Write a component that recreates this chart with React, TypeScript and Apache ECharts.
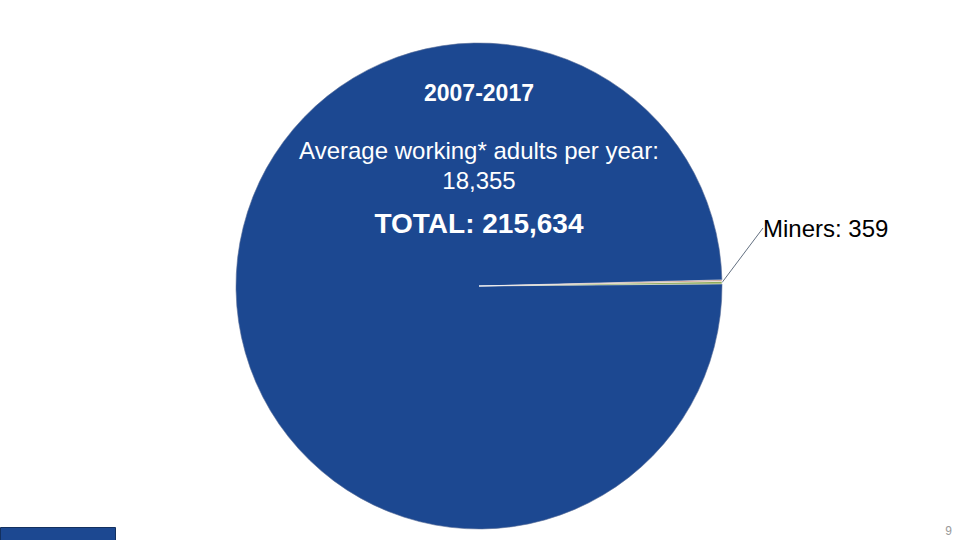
import React, { useEffect, useRef } from "react";
import * as echarts from "echarts";

const categories = ["Other working adults", "Miners", "Other"];
const values = [215075, 359, 200];
const colors = ["#1c4891", "#8faa5c", "#c0826c"];
const labelled = ["Miners"];

const titleText = "2007-2017";
const avgLine1 = "Average working* adults per year:";
const avgLine2 = "18,355";
const totalText = "TOTAL: 215,634";
const pageNumber = "9";

const FONT = "'Liberation Sans', Arial, sans-serif";

export default function App() {
  const ref = useRef<HTMLDivElement>(null);
  useEffect(() => {
    if (!ref.current) return;
    const chart = echarts.init(ref.current, undefined, { renderer: "svg" });
    const total = values.reduce((a, b) => a + b, 0);
    const smallSum = values.slice(1).reduce((a, b) => a + b, 0);
    const startAngle = (smallSum / total) * 360 + 0.5;
    const txt = (text: string, y: number, font: string) => ({
      type: "text",
      z: 100,
      style: {
        text,
        x: 479,
        y,
        align: "center",
        verticalAlign: "middle",
        fill: "#ffffff",
        font,
      },
    });
    chart.setOption({
      animation: false,
      backgroundColor: "#ffffff",
      series: [
        {
          type: "pie",
          z: 2,
          center: [479, 286],
          radius: [0, 243],
          clockwise: false,
          startAngle: startAngle,
          minAngle: 0,
          avoidLabelOverlap: false,
          data: categories.map((c, i) => ({
            name: c,
            value: values[i],
            itemStyle: {
              color: colors[i],
              borderColor: i === 0 ? "#5a6f99" : "#ffffff",
              borderWidth: i === 0 ? 0.6 : 0.5,
            },
            label: {
              show: labelled.includes(c),
              formatter: "{b}: {c}",
              color: "#000000",
              fontSize: 24,
              fontFamily: FONT,
            },
            labelLine: {
              show: labelled.includes(c),
              length: 10,
              length2: 0,
              lineStyle: { color: "#3a4a60", width: 0.8 },
            },
          })),
          labelLayout: (params: any) => {
            if (params.text && params.text.indexOf("Miners") === 0) {
              return { x: 763, y: 228, align: "left", verticalAlign: "middle" };
            }
            return {};
          },
          emphasis: { disabled: true },
        },
      ],
      graphic: [
        txt(titleText, 93, `bold 23px ${FONT}`),
        txt(avgLine1, 150, `24px ${FONT}`),
        txt(avgLine2, 180, `24px ${FONT}`),
        txt(totalText, 223, `bold 28px ${FONT}`),
        {
          type: "rect",
          z: 100,
          shape: { x: 0.5, y: 527.5, width: 115, height: 14 },
          style: { fill: "#1c4891", stroke: "#13305f", lineWidth: 1 },
        },
        {
          type: "text",
          z: 100,
          style: {
            text: pageNumber,
            x: 952,
            y: 531,
            align: "right",
            verticalAlign: "middle",
            fill: "#9a9a9a",
            font: `12px ${FONT}`,
          },
        },
      ],
    });
    return () => chart.dispose();
  }, []);
  return (
    <div
      ref={ref}
      style={{ position: "absolute", left: 0, top: 0, width: 960, height: 540 }}
    />
  );
}
